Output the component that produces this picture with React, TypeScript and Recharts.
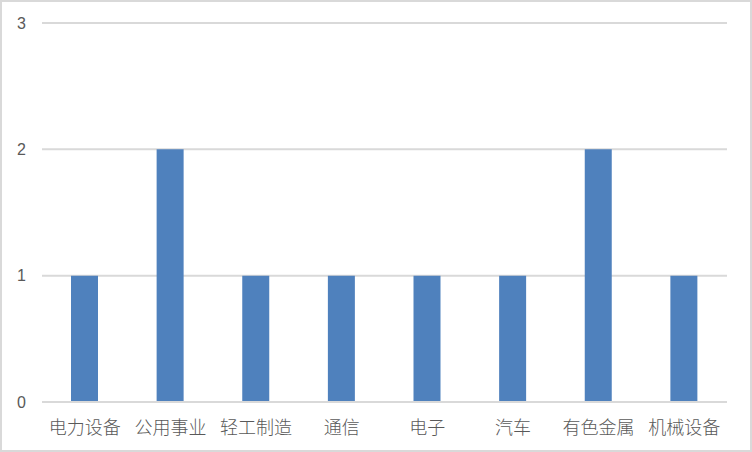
import { BarChart, Bar, XAxis, YAxis, CartesianGrid } from "recharts";

const industries = ["电力设备", "公用事业", "轻工制造", "通信", "电子", "汽车", "有色金属", "机械设备"];
const counts = [1, 2, 1, 1, 1, 1, 2, 1];
const yTicks = [0, 1, 2, 3];

const data = industries.map((name, i) => ({ name, count: counts[i] }));

export default function App() {
  return (
    <div
      style={{
        position: "fixed",
        left: 0,
        top: 0,
        width: 752,
        height: 452,
        boxSizing: "border-box",
        border: "2px solid #d9d9d9",
        background: "#fff",
      }}
    >
      <div style={{ position: "absolute", left: -2, top: -2 }}>
        <BarChart width={752} height={452} data={data} margin={{ top: 23, right: 25, bottom: 20, left: 0 }}>
          <CartesianGrid vertical={false} stroke="#d9d9d9" strokeWidth={2} />
          <XAxis
            dataKey="name"
            height={30}
            axisLine={{ stroke: "#d9d9d9", strokeWidth: 2 }}
            tickLine={false}
            interval={0}
            tickMargin={13}
            tick={{ fill: "#595959", fontSize: 18, fontWeight: 300, fontFamily: "'Noto Sans CJK SC', sans-serif" }}
          />
          <YAxis
            width={42}
            domain={[0, 3]}
            ticks={yTicks}
            axisLine={false}
            tickLine={false}
            tickMargin={10}
            tick={{ fill: "#595959", fontSize: 16, fontFamily: "'Liberation Sans', sans-serif" }}
          />
          <Bar dataKey="count" fill="#4f81bd" barSize={27} isAnimationActive={false} />
        </BarChart>
      </div>
    </div>
  );
}
